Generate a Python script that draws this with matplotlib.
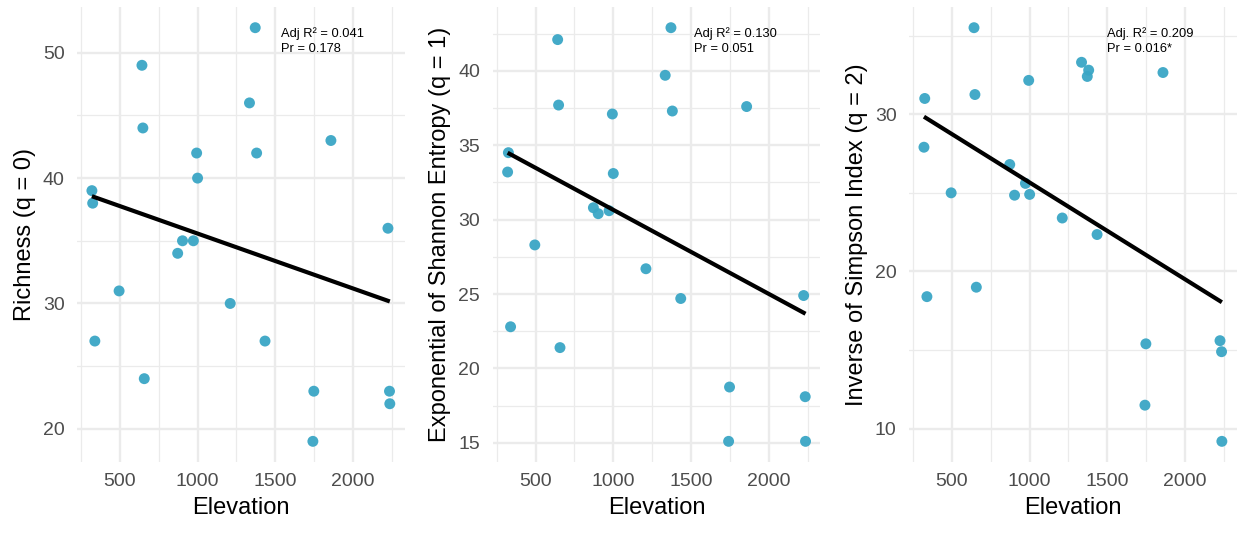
import numpy as np
import matplotlib.pyplot as plt
from matplotlib.ticker import MultipleLocator

plt.rcParams['font.family'] = ['Liberation Sans', 'DejaVu Sans']

# site elevations (shared by all three panels)
elevation = [320, 325, 339, 495, 642, 648, 657, 872, 903, 973, 994, 1000,
             1210, 1334, 1371, 1380, 1434, 1742, 1748, 1858, 2225, 2235, 2237]

richness = [39, 38, 27, 31, 49, 44, 24, 34, 35, 35, 42, 40,
            30, 46, 52, 42, 27, 19, 23, 43, 36, 23, 22]
shannon = [33.2, 34.5, 22.8, 28.3, 42.1, 37.7, 21.4, 30.8, 30.4, 30.6, 37.1, 33.1,
           26.7, 39.7, 42.9, 37.3, 24.7, 15.1, 18.75, 37.6, 24.9, 18.1, 15.1]
simpson = [27.9, 31.0, 18.4, 25.0, 35.5, 31.25, 19.0, 26.8, 24.85, 25.6, 32.15, 24.9,
           23.4, 33.3, 32.4, 32.8, 22.35, 11.5, 15.4, 32.65, 15.6, 14.9, 9.2]

ylabels = ['Richness (q = 0)', 'Exponential of Shannon Entropy (q = 1)',
           'Inverse of Simpson Index (q = 2)']
stats_text = ['Adj R\u00b2 = 0.041\nPr = 0.178',
              'Adj R\u00b2 = 0.130\nPr = 0.051',
              'Adj. R\u00b2 = 0.209\nPr = 0.016*']
text_x = [1540, 1520, 1500]
y_major = [10, 5, 10]
y_minor = [5, 2.5, 5]

POINT_COLOR = '#3AA6C5'
lefts = [0.0622, 0.398, 0.7343]

fig = plt.figure(figsize=(12.38, 5.35), dpi=100)

x = np.array(elevation, dtype=float)
for i, y in enumerate([richness, shannon, simpson]):
    y = np.array(y, dtype=float)
    ax = fig.add_axes([lefts[i], 0.1364, 0.2647, 0.8505])
    ax.scatter(x, y, s=62, color=POINT_COLOR, alpha=0.95, edgecolors='none', zorder=3)

    # linear fit, like geom_smooth(method = "lm", se = FALSE)
    slope, intercept = np.polyfit(x, y, 1)
    xs = np.array([x.min(), x.max()])
    ax.plot(xs, intercept + slope * xs, color='black', lw=3.0, zorder=4,
            solid_capstyle='butt')

    ax.annotate(stats_text[i], xy=(text_x[i], 0.955), xycoords=('data', 'axes fraction'),
                ha='left', va='top', fontsize=9.3, color='black', linespacing=1.35)

    ax.xaxis.set_major_locator(MultipleLocator(500))
    ax.xaxis.set_minor_locator(MultipleLocator(250))
    ax.yaxis.set_major_locator(MultipleLocator(y_major[i]))
    ax.yaxis.set_minor_locator(MultipleLocator(y_minor[i]))
    ax.grid(which='major', color='#EBEBEB', lw=1.7, zorder=0)
    ax.grid(which='minor', color='#EBEBEB', lw=0.9, zorder=0)
    ax.set_axisbelow(True)
    for s in ax.spines.values():
        s.set_visible(False)
    ax.tick_params(which='both', length=0, labelsize=14, labelcolor='#4D4D4D')
    ax.tick_params(axis='y', pad=9)
    ax.tick_params(axis='x', pad=8)
    ax.set_xlabel('Elevation', fontsize=17, labelpad=5)
    ax.set_ylabel(ylabels[i], fontsize=17, labelpad=5)

fig.savefig('out.png', dpi=100)
